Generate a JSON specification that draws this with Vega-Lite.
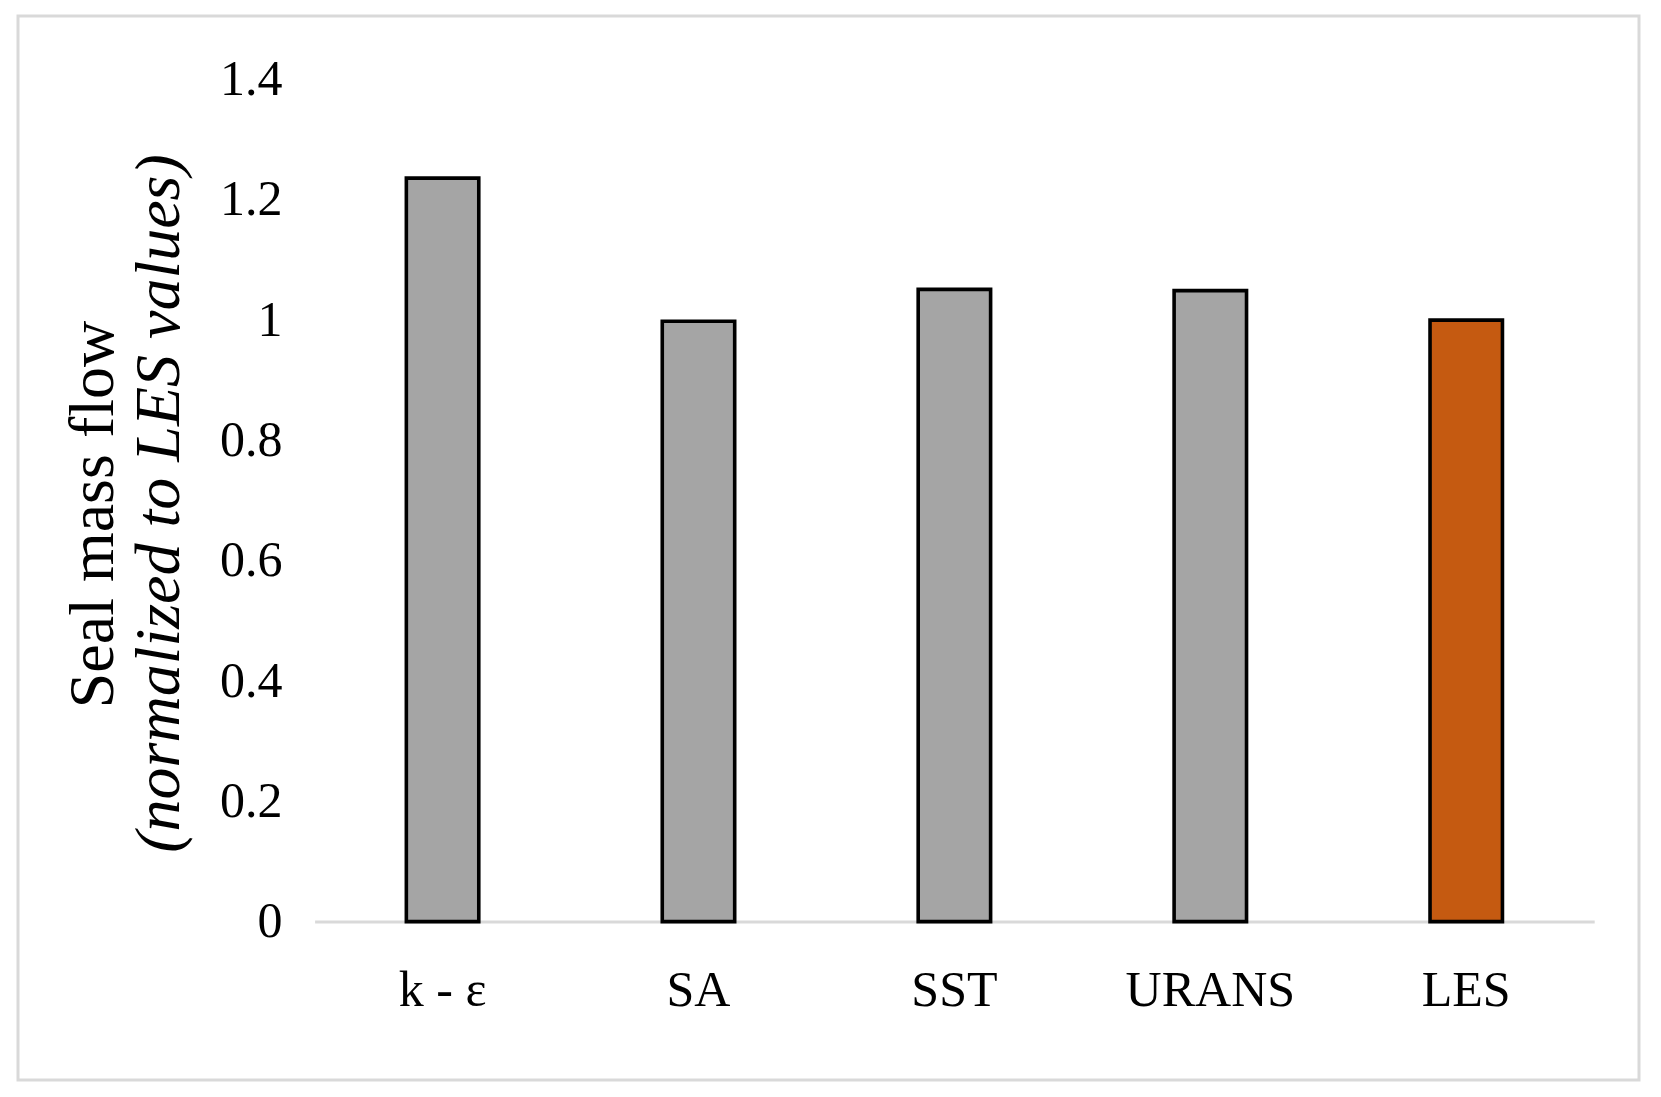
{
  "$schema": "https://vega.github.io/schema/vega-lite/v6.json",
  "autosize": {"type": "none"},
  "padding": {"left": 18, "top": 16, "right": 22, "bottom": 17},
  "width": 1621,
  "height": 1064,
  "background": "white",
  "data": {
    "values": [
      {"model": "k - ε", "type": "RANS", "flow": 1.236},
      {"model": "SA", "type": "RANS", "flow": 0.998},
      {"model": "SST", "type": "RANS", "flow": 1.051},
      {"model": "URANS", "type": "RANS", "flow": 1.049},
      {"model": "LES", "type": "LES", "flow": 1.0}
    ]
  },
  "encoding": {
    "x": {
      "field": "model",
      "type": "nominal",
      "sort": null,
      "scale": {"range": [296.6, 1576.2], "paddingInner": 0, "paddingOuter": 0},
      "axis": {
        "orient": "bottom",
        "offset": -158.4,
        "title": null,
        "labelAngle": 0,
        "labelFont": "Liberation Serif",
        "labelFontSize": 50,
        "labelColor": "#000000",
        "labelPadding": 44,
        "ticks": false,
        "tickSize": 0,
        "grid": false,
        "domainColor": "#D9D9D9",
        "domainWidth": 3
      }
    }
  },
  "layer": [
    {
      "mark": {"type": "bar", "width": {"band": 0.283}, "stroke": "#000000", "strokeWidth": 3.6},
      "encoding": {
        "y": {
          "field": "flow",
          "type": "quantitative",
          "scale": {"domain": [0, 1.4], "range": [905.6, 63.5], "nice": false, "zero": true},
          "axis": {
            "orient": "left",
            "offset": -296.6,
            "values": [0, 0.2, 0.4, 0.6, 0.8, 1, 1.2, 1.4],
            "labelExpr": "'' + datum.value",
            "labelFont": "Liberation Serif",
            "labelFontSize": 50,
            "labelColor": "#000000",
            "labelPadding": 32.6,
            "labelBaseline": "middle",
            "ticks": false,
            "tickSize": 0,
            "domain": false,
            "grid": false,
            "title": "(normalized to LES values)",
            "titleFont": "Liberation Serif",
            "titleFontStyle": "italic",
            "titleFontWeight": "normal",
            "titleFontSize": 64,
            "titleColor": "#000000",
            "titleAngle": -90,
            "titleAlign": "center",
            "titleBaseline": "middle",
            "titleX": -155.6,
            "titleY": 487
          }
        },
        "color": {
          "field": "type",
          "type": "nominal",
          "scale": {"domain": ["RANS", "LES"], "range": ["#A5A5A5", "#C55A11"]},
          "legend": null
        }
      }
    },
    {
      "mark": {"type": "bar", "width": {"band": 0.283}, "fillOpacity": 0, "strokeOpacity": 0},
      "encoding": {
        "y": {
          "field": "flow",
          "type": "quantitative",
          "scale": {"domain": [0, 1.4], "range": [905.6, 63.5], "nice": false, "zero": true},
          "axis": {
            "orient": "left",
            "offset": -296.6,
            "labels": false,
            "ticks": false,
            "domain": false,
            "grid": false,
            "title": "Seal mass flow",
            "titleFont": "Liberation Serif",
            "titleFontWeight": "normal",
            "titleFontSize": 64,
            "titleColor": "#000000",
            "titleAngle": -90,
            "titleAlign": "center",
            "titleBaseline": "middle",
            "titleX": -221.6,
            "titleY": 498
          }
        }
      }
    }
  ],
  "resolve": {"axis": {"y": "independent"}},
  "config": {
    "view": {"stroke": "#D9D9D9", "strokeWidth": 3}
  }
}
